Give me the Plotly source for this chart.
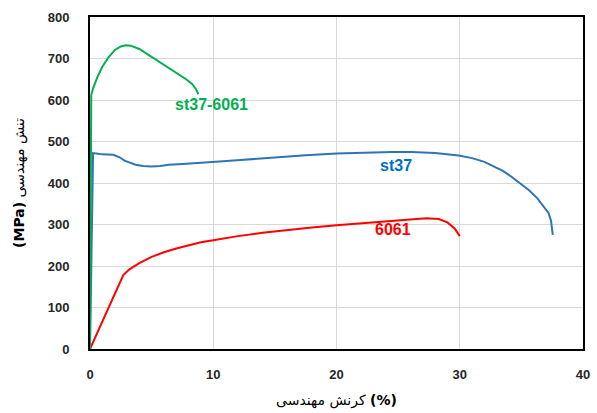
import plotly.graph_objects as go

# Engineering stress-strain curves (strain in %, stress in MPa)
st37_6061_strain = [0.0, 0.05, 0.1, 0.25, 0.6, 1.0, 1.5, 2.0, 2.5, 2.9, 3.3, 4.0, 4.8, 5.6, 6.4, 7.2, 7.8, 8.3, 8.6, 8.8]
st37_6061_stress = [0, 450, 612, 628, 655, 680, 703, 720, 729, 732, 731, 723, 708, 693, 678, 662, 650, 638, 626, 614]

st37_strain = [0.0, 0.15, 0.25, 0.5, 1.0, 1.9, 2.4, 2.8, 3.2, 3.7, 4.3, 5.0, 5.7, 6.4, 7.5, 8.8, 10.5, 12.5, 15.0, 17.5, 20.0, 22.5, 24.5, 26.1, 28.0, 29.9, 31.0, 32.0, 32.8, 33.5, 34.2, 34.9, 35.6, 36.3, 36.8, 37.2, 37.4, 37.5, 37.55]
st37_stress = [0, 300, 472, 471, 469, 468, 462, 454, 449, 444, 441, 440, 441, 444, 446, 448, 452, 456, 462, 467, 471, 474, 475, 475, 472, 466, 460, 451, 439, 429, 415, 399, 383, 363, 345, 328, 310, 292, 275]

al6061_strain = [0.0, 2.7, 3.2, 4.0, 5.0, 6.0, 7.0, 8.0, 9.0, 10.0, 12.0, 14.0, 16.0, 18.0, 20.0, 22.0, 24.0, 26.0, 27.3, 28.3, 29.0, 29.6, 30.0]
al6061_stress = [0, 178, 192, 207, 222, 233, 242, 250, 257, 262, 272, 280, 287, 293, 298, 303, 308, 313, 315, 313, 305, 290, 272]

x_ticks = [0, 10, 20, 30, 40]
y_ticks = [0, 100, 200, 300, 400, 500, 600, 700, 800]

GREEN = "#00b050"
BLUE = "#2e75b6"
RED = "#ff0000"

fig = go.Figure()
fig.add_trace(go.Scatter(x=al6061_strain, y=al6061_stress, mode="lines",
                         line=dict(color=RED, width=2), showlegend=False))
fig.add_trace(go.Scatter(x=st37_strain, y=st37_stress, mode="lines",
                         line=dict(color=BLUE, width=2), showlegend=False))
fig.add_trace(go.Scatter(x=st37_6061_strain, y=st37_6061_stress, mode="lines",
                         line=dict(color=GREEN, width=2), showlegend=False))

label_font = dict(family="Liberation Sans, Arial, sans-serif", size=16)
fig.add_annotation(x=9.85, y=588, text="<b>st37-6061</b>", showarrow=False,
                   font=dict(color=GREEN, **label_font))
fig.add_annotation(x=24.8, y=442, text="<b>st37</b>", showarrow=False,
                   font=dict(color="#0070c0", **label_font))
fig.add_annotation(x=24.6, y=287, text="<b>6061</b>", showarrow=False,
                   font=dict(color=RED, **label_font))

tick_font = dict(family="Liberation Sans, Arial, sans-serif", size=13, color="#262626")
title_font = dict(family="DejaVu Sans, Liberation Sans, sans-serif", size=14, color="#000000")

fig.update_xaxes(range=[0, 40], tickvals=x_ticks, ticktext=[f"<b>{v}</b>" for v in x_ticks],
                 showgrid=True, gridcolor="#d9d9d9", gridwidth=1,
                 showline=True, linecolor="#000000", linewidth=2, mirror=True,
                 zeroline=False, ticks="", ticklabelstandoff=12, tickfont=tick_font,
                 title=dict(text="کرنش مهندسی <b>(%)</b>", font=title_font, standoff=15))
fig.update_yaxes(range=[0, 800], tickvals=y_ticks, ticktext=[f"<b>{v}</b>" for v in y_ticks],
                 showgrid=True, gridcolor="#d9d9d9", gridwidth=1,
                 showline=True, linecolor="#000000", linewidth=2, mirror=True,
                 zeroline=False, ticks="", ticklabelstandoff=16, tickfont=tick_font,
                 title=dict(text="<b>(MPa)</b> تنش مهندسی", font=title_font, standoff=20))

fig.update_layout(width=597, height=413,
                  margin=dict(l=90, r=7, t=17, b=61),
                  paper_bgcolor="#ffffff", plot_bgcolor="#ffffff")

fig.write_html("out.html")
